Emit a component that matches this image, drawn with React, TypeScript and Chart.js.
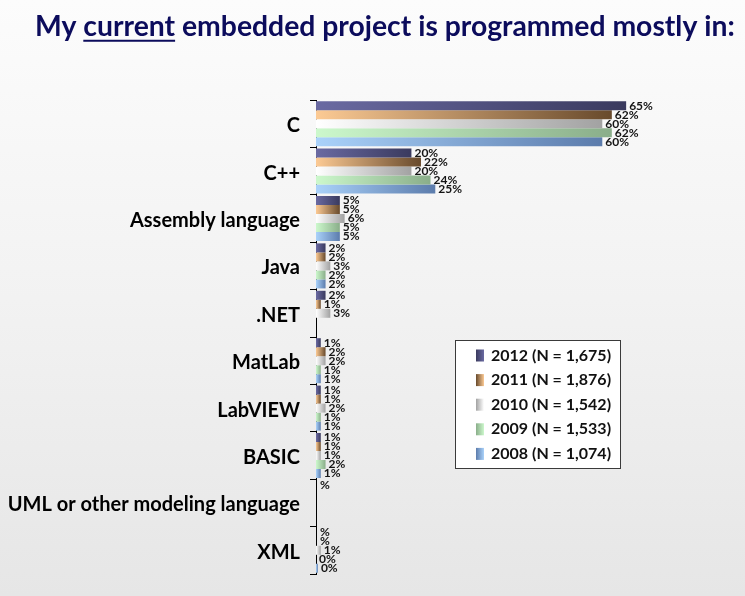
import React, { useEffect, useRef } from 'react';
import { Chart, registerables } from 'chart.js';

Chart.register(...registerables);

// ---- Data ----
const titleBefore = 'My ';
const titleUnderlined = 'current';
const titleAfter = ' embedded project is programmed mostly in:';

const categories = [
  'C',
  'C++',
  'Assembly language',
  'Java',
  '.NET',
  'MatLab',
  'LabVIEW',
  'BASIC',
  'UML or other modeling language',
  'XML',
];

const seriesLabels = [
  '2012 (N = 1,675)',
  '2011 (N = 1,876)',
  '2010 (N = 1,542)',
  '2009 (N = 1,533)',
  '2008 (N = 1,074)',
];

const values2012 = [65, 20, 5, 2, 2, 1, 1, 1, null, null];
const values2011 = [62, 22, 5, 2, 1, 2, 1, 1, null, null];
const values2010 = [60, 20, 6, 3, 3, 2, 2, 1, null, 1];
const values2009 = [62, 24, 5, 2, null, 1, 1, 2, null, 0];
const values2008 = [60, 25, 5, 2, null, 1, 1, 1, null, 0.4];

// cells [categoryIndex, seriesIndex] that show a bare "%" label with no value
const barePercentCells = [
  [8, 0],
  [9, 0],
  [9, 1],
];

const xMax = 70;

// ---- Styles ----
const seriesColors: [string, string][] = [
  ['#6a6aa2', '#3a3a5e'],
  ['#fcca94', '#684a2c'],
  ['#ffffff', '#a2a2a2'],
  ['#ccf8cc', '#8aae8a'],
  ['#aad2fa', '#5c7cac'],
];

const FONT = 'Lato, "Open Sans", "DejaVu Sans", sans-serif';

function barFill(seriesIndex: number) {
  return (ctx: any) => {
    const [c0, c1] = seriesColors[seriesIndex];
    const chart = ctx.chart;
    const v = ctx.raw;
    if (!chart.chartArea || v == null || !chart.scales.x) return c1;
    const x0 = chart.scales.x.getPixelForValue(0);
    const x1 = chart.scales.x.getPixelForValue(v);
    if (x1 - x0 < 1) return c1;
    const g = chart.ctx.createLinearGradient(x0, 0, x1, 0);
    g.addColorStop(0, c0);
    g.addColorStop(1, c1);
    return g;
  };
}

const titlePlugin = {
  id: 'underlinedTitle',
  afterDraw(chart: any) {
    const ctx = chart.ctx;
    ctx.save();
    const full = titleBefore + titleUnderlined + titleAfter;
    ctx.font = `bold 26px ${FONT}`;
    const w26 = ctx.measureText(full).width;
    const size = Math.min(30, (26 * 700) / w26);
    ctx.font = `bold ${size}px ${FONT}`;
    const left = 35;
    const y = 27;
    ctx.fillStyle = '#0c0c5c';
    ctx.textBaseline = 'middle';
    ctx.textAlign = 'left';
    const wBefore = ctx.measureText(titleBefore).width;
    const wUnder = ctx.measureText(titleUnderlined).width;
    ctx.fillText(titleBefore, left, y);
    ctx.fillText(titleUnderlined, left + wBefore, y);
    ctx.fillText(titleAfter, left + wBefore + wUnder, y);
    ctx.fillRect(left + wBefore, y + size * 0.45, wUnder, 2);
    ctx.restore();
  },
};

const fmt = (v: number) => `${Math.round(v)}%`;

const labelPlugin = {
  id: 'barLabels',
  afterDatasetsDraw(chart: any) {
    const ctx = chart.ctx;
    const xs = chart.scales.x;
    ctx.save();
    ctx.font = `bold 12px ${FONT}`;
    ctx.fillStyle = '#141414';
    ctx.textBaseline = 'middle';
    ctx.textAlign = 'left';
    chart.data.datasets.forEach((ds: any, di: number) => {
      const meta = chart.getDatasetMeta(di);
      ds.data.forEach((v: any, i: number) => {
        const el = meta.data[i];
        if (!el) return;
        const y = el.y;
        if (v != null) {
          ctx.fillText(fmt(v), xs.getPixelForValue(v) + 3, y);
        } else if (barePercentCells.some(([c, s]) => c === i && s === di)) {
          ctx.fillText('%', xs.getPixelForValue(0) + 4, y);
        }
      });
    });
    ctx.restore();
  },
};

const legendPlugin = {
  id: 'boxLegend',
  afterDraw(chart: any) {
    const ctx = chart.ctx;
    ctx.save();
    const bx = 455, by = 340, bw = 165, bh = 128;
    ctx.fillStyle = '#ffffff';
    ctx.fillRect(bx, by, bw, bh);
    ctx.strokeStyle = '#3a3a3a';
    ctx.lineWidth = 1;
    ctx.strokeRect(bx + 0.5, by + 0.5, bw, bh);
    ctx.font = `bold 16px ${FONT}`;
    ctx.textBaseline = 'middle';
    ctx.textAlign = 'left';
    seriesLabels.forEach((label, i) => {
      const y = 355.5 + i * 24.6;
      const [c0, c1] = seriesColors[i];
      const g = ctx.createLinearGradient(476, 0, 484, 0);
      g.addColorStop(0, c1);
      g.addColorStop(1, c0);
      ctx.fillStyle = g;
      ctx.fillRect(476, y - 6, 8, 12);
      ctx.fillStyle = '#111111';
      ctx.fillText(label, 491, y);
    });
    ctx.restore();
  },
};

export default function App() {
  const canvasRef = useRef<HTMLCanvasElement | null>(null);

  useEffect(() => {
    if (!canvasRef.current) return;
    const allValues = [values2012, values2011, values2010, values2009, values2008];
    const chart = new Chart(canvasRef.current, {
      type: 'bar',
      data: {
        labels: categories,
        datasets: allValues.map((vals, i) => ({
          label: seriesLabels[i],
          data: vals,
          backgroundColor: barFill(i),
          borderWidth: 0,
          categoryPercentage: 0.95,
          barPercentage: 1,
        })),
      },
      options: {
        indexAxis: 'y',
        responsive: false,
        animation: false,
        layout: { padding: { top: 100, bottom: 16, right: 95, left: 0 } },
        plugins: {
          legend: { display: false },
          title: { display: false },
          tooltip: { enabled: false },
        },
        scales: {
          x: { display: false, min: 0, max: xMax },
          y: {
            offset: true,
            grid: {
              display: true,
              drawOnChartArea: false,
              drawTicks: true,
              tickLength: 6,
              color: '#000000',
              lineWidth: 1,
              offset: true,
            },
            border: { display: true, color: '#000000', width: 1 },
            ticks: {
              color: '#000000',
              autoSkip: false,
              padding: 10,
              labelOffset: 2,
              font: { family: FONT, weight: 'bold', size: 20 },
            },
            afterFit: (s: any) => {
              s.width = 316;
            },
          },
        },
      },
      plugins: [titlePlugin, labelPlugin, legendPlugin],
    } as any);
    return () => chart.destroy();
  }, []);

  return (
    <div
      style={{
        position: 'absolute',
        left: 0,
        top: 0,
        width: 745,
        height: 596,
        background: 'linear-gradient(to bottom, #fcfcfc 0%, #f2f2f2 50%, #e6e6e6 100%)',
      }}
    >
      <canvas ref={canvasRef} width={745} height={596} />
    </div>
  );
}
